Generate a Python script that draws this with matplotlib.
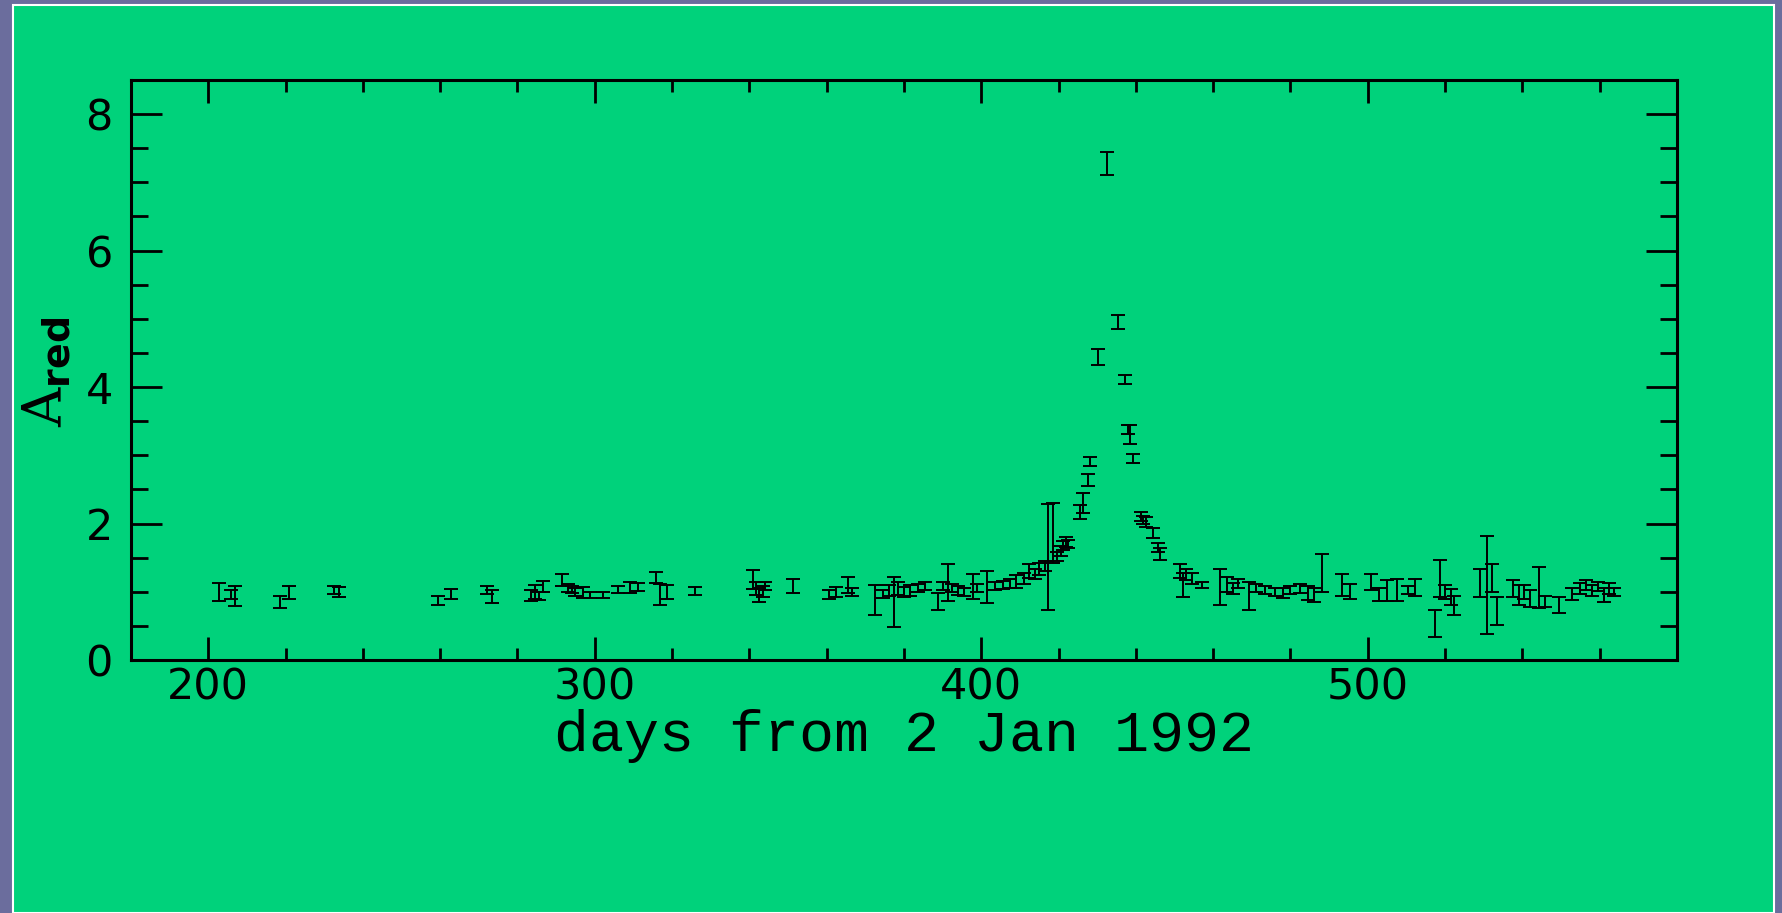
"""
Microlensing light curve: red-band amplification vs. days from 2 Jan 1992.
"""

import matplotlib

matplotlib.use("Agg")
import matplotlib.pyplot as plt
from matplotlib.patches import Rectangle
from matplotlib.ticker import MultipleLocator


# observation day, amplification, 1-sigma error
days = [
    202.7, 206.0, 206.8, 218.6, 221.0, 232.5, 233.8, 259.5, 262.7, 272.2,
    273.5, 283.5, 284.5, 285.5, 286.5, 291.6, 293.0, 294.0, 295.0, 296.9,
    298.8, 302.0, 306.0, 309.0, 311.2, 315.8, 316.8, 318.7, 325.8, 341.0,
    341.8, 342.5, 343.5, 344.0, 351.4, 360.5, 362.5, 365.5, 366.5, 372.4,
    374.5, 376.0, 377.5, 378.5, 380.0, 381.5, 383.5, 385.5, 388.7, 390.0,
    391.5, 392.5, 394.0, 395.5, 397.8, 399.0, 401.6, 403.5, 405.5, 407.5,
    409.0, 411.0, 412.4, 414.0, 415.0, 416.5, 417.3, 418.6, 419.6, 420.5,
    421.2, 421.8, 422.5, 425.5, 426.2, 427.6, 428.2, 430.3, 432.5, 435.4,
    437.1, 438.0, 438.6, 439.3, 441.2, 441.8, 442.5, 444.3, 445.6, 446.3,
    451.5, 452.2, 453.0, 454.5, 457.1, 461.8, 463.6, 465.0, 466.5, 469.2,
    471.0, 473.5, 476.0, 478.0, 480.0, 482.5, 484.5, 486.0, 488.2, 493.4,
    495.5, 500.7, 502.8, 505.0, 507.6, 510.5, 512.3, 517.5, 518.8, 520.0,
    521.5, 522.2, 529.0, 530.9, 532.1, 533.5, 537.5, 539.0, 540.5, 542.0,
    544.2, 545.9, 549.4, 552.8, 555.0, 556.5, 558.0, 559.5, 561.0, 562.5,
    563.6,
]
amp = [
    1.00, 0.96, 0.94, 0.85, 0.99, 1.03, 1.00, 0.87, 0.97, 1.03,
    0.93, 0.95, 1.00, 0.94, 1.08, 1.17, 1.05, 1.03, 1.00, 0.99,
    0.95, 0.95, 1.03, 1.06, 1.07, 1.21, 0.96, 1.00, 1.01, 1.18,
    1.05, 0.95, 1.00, 1.08, 1.08, 0.96, 1.00, 1.10, 1.00, 0.88,
    0.97, 1.02, 0.85, 1.05, 1.00, 1.02, 1.05, 1.08, 0.86, 1.08,
    1.13, 1.05, 1.02, 1.00, 1.08, 1.05, 1.07, 1.08, 1.10, 1.12,
    1.15, 1.20, 1.30, 1.26, 1.33, 1.38, 1.51, 1.86, 1.52, 1.60,
    1.68, 1.73, 1.70, 2.17, 2.30, 2.64, 2.91, 4.44, 7.28, 4.95,
    4.11, 3.38, 3.30, 2.95, 2.10, 2.05, 2.02, 1.86, 1.65, 1.55,
    1.30, 1.10, 1.25, 1.20, 1.10, 1.07, 1.11, 1.05, 1.12, 0.94,
    1.05, 1.03, 1.00, 0.98, 1.03, 1.05, 0.98, 0.95, 1.27, 1.10,
    1.00, 1.14, 0.96, 1.02, 1.03, 1.02, 1.06, 0.54, 1.20, 1.00,
    0.92, 0.80, 1.13, 1.10, 1.20, 0.72, 1.05, 0.95, 1.00, 0.90,
    1.06, 0.86, 0.81, 0.97, 1.05, 1.10, 1.02, 1.08, 0.95, 1.05,
    1.00,
]
amp_err = [
    0.13, 0.07, 0.15, 0.09, 0.09, 0.06, 0.07, 0.07, 0.07, 0.06,
    0.09, 0.08, 0.10, 0.06, 0.08, 0.09, 0.06, 0.05, 0.06, 0.08,
    0.04, 0.04, 0.05, 0.08, 0.06, 0.085, 0.16, 0.10, 0.06, 0.14,
    0.10, 0.10, 0.08, 0.06, 0.10, 0.07, 0.07, 0.12, 0.06, 0.22,
    0.06, 0.08, 0.37, 0.10, 0.07, 0.08, 0.06, 0.06, 0.12, 0.06,
    0.27, 0.06, 0.07, 0.06, 0.18, 0.06, 0.23, 0.06, 0.06, 0.06,
    0.10, 0.08, 0.10, 0.07, 0.09, 0.07, 0.78, 0.44, 0.07, 0.07,
    0.07, 0.07, 0.06, 0.10, 0.15, 0.09, 0.07, 0.12, 0.17, 0.10,
    0.07, 0.07, 0.14, 0.07, 0.07, 0.06, 0.07, 0.07, 0.06, 0.09,
    0.10, 0.18, 0.08, 0.08, 0.05, 0.26, 0.11, 0.08, 0.06, 0.21,
    0.06, 0.06, 0.06, 0.07, 0.06, 0.07, 0.10, 0.10, 0.28, 0.16,
    0.11, 0.12, 0.10, 0.15, 0.16, 0.06, 0.12, 0.20, 0.27, 0.10,
    0.12, 0.14, 0.20, 0.72, 0.20, 0.20, 0.12, 0.15, 0.10, 0.12,
    0.30, 0.08, 0.12, 0.09, 0.08, 0.07, 0.08, 0.07, 0.10, 0.08,
    0.06,
]

x_ticks = [200, 300, 400, 500]
y_ticks = [0, 2, 4, 6, 8]

W, H = 1783, 913

plt.rcParams["mathtext.fontset"] = "custom"
plt.rcParams["mathtext.rm"] = "DejaVu Serif"
plt.rcParams["mathtext.bf"] = "DejaVu Sans:bold"

fig = plt.figure(figsize=(W / 100, H / 100), dpi=100)
fig.patch.set_facecolor("#6b6d9d")

# green slide panel with thin white rim, kept behind the axes
panel = Rectangle(
    (13 / W, 0), (1774 - 13) / W, 1 - 5 / H,
    transform=fig.transFigure, facecolor="#00d27b",
    edgecolor="white", linewidth=1.5, zorder=-5,
)
fig.patches.append(panel)

ax = fig.add_axes([131 / W, 1 - 660 / H, (1677 - 131) / W, (660 - 80) / H])
ax.set_facecolor("none")
ax.set_zorder(2)

ax.errorbar(
    days, amp, yerr=amp_err, fmt="none", ecolor="black",
    elinewidth=1.4, capsize=5, capthick=1.4,
)

ax.set_xlim(180, 580)
ax.set_ylim(0, 8.5)
ax.set_xticks(x_ticks)
ax.set_yticks(y_ticks)
ax.xaxis.set_minor_locator(MultipleLocator(20))
ax.yaxis.set_minor_locator(MultipleLocator(0.5))

for side in ax.spines.values():
    side.set_linewidth(2.2)

ax.tick_params(axis="both", which="both", direction="in", top=True, right=True,
               width=2.0, colors="black")
ax.tick_params(axis="x", which="major", length=16.5, pad=5, labelsize=31)
ax.tick_params(axis="x", which="minor", length=8.5)
ax.tick_params(axis="y", which="major", length=22, pad=13, labelsize=31)
ax.tick_params(axis="y", which="minor", length=12)

ax.set_xlabel("days from 2 Jan 1992", family="Liberation Mono", fontsize=42, labelpad=0)
fig.text(47 / W, 1 - 372 / H, r"$\mathrm{A}_{\mathbf{red}}$", rotation=90,
         ha="center", va="center", fontsize=39, zorder=3)

fig.savefig("out.png", dpi=100, facecolor=fig.get_facecolor())
